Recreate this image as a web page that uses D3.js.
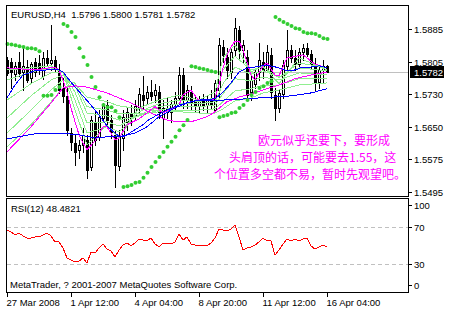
<!DOCTYPE html>
<html>
<head>
<meta charset="utf-8">
<script src="https://cdn.jsdelivr.net/npm/d3@7"></script>
<style>
  body { margin: 0; background: #fff; }
  text { font-family: "Liberation Sans", Arial, sans-serif; }
</style>
</head>
<body>
<svg id="chart" width="450" height="312"></svg>
<script>
// H4 bars, [open, high, low, close]
const candles = [
  [1.5811,1.5818,1.5775,1.5779],[1.5806,1.5815,1.5744,1.5782],[1.5777,1.5806,1.5763,1.5796],[1.5806,1.5830,1.5772,1.5779],
  [1.5782,1.5839,1.5739,1.5796],[1.5794,1.5811,1.5758,1.5763],[1.5768,1.5806,1.5758,1.5801],[1.5806,1.5815,1.5772,1.5782],
  [1.5803,1.5823,1.5777,1.5787],[1.5772,1.5830,1.5765,1.5815],[1.5815,1.5834,1.5796,1.5803],[1.5803,1.5894,1.5787,1.5811],
  [1.5811,1.5820,1.5782,1.5791],[1.5787,1.5801,1.5732,1.5739],[1.5744,1.5768,1.5710,1.5725],[1.5725,1.5744,1.5631,1.5643],
  [1.5636,1.5648,1.5596,1.5615],[1.5612,1.5631,1.5560,1.5591],[1.5596,1.5619,1.5576,1.5607],[1.5607,1.5648,1.5591,1.5631],
  [1.5619,1.5631,1.5529,1.5548],[1.5555,1.5677,1.5548,1.5667],[1.5662,1.5691,1.5607,1.5619],[1.5627,1.5691,1.5619,1.5674],
  [1.5672,1.5708,1.5662,1.5703],[1.5703,1.5715,1.5648,1.5667],[1.5667,1.5679,1.5624,1.5638],[1.5631,1.5643,1.5507,1.5560],
  [1.5557,1.5643,1.5548,1.5631],[1.5624,1.5691,1.5596,1.5674],[1.5662,1.5696,1.5643,1.5686],[1.5684,1.5703,1.5655,1.5672],
  [1.5677,1.5715,1.5667,1.5701],[1.5696,1.5744,1.5686,1.5729],[1.5727,1.5772,1.5696,1.5715],[1.5720,1.5748,1.5705,1.5734],
  [1.5734,1.5763,1.5715,1.5725],[1.5727,1.5753,1.5710,1.5739],[1.5734,1.5748,1.5672,1.5686],[1.5672,1.5715,1.5624,1.5696],
  [1.5696,1.5720,1.5672,1.5686],[1.5686,1.5715,1.5662,1.5705],[1.5705,1.5734,1.5691,1.5720],[1.5720,1.5794,1.5715,1.5775],
  [1.5775,1.5791,1.5696,1.5715],[1.5715,1.5751,1.5696,1.5739],[1.5734,1.5748,1.5691,1.5710],[1.5710,1.5727,1.5686,1.5701],
  [1.5701,1.5725,1.5686,1.5715],[1.5715,1.5729,1.5691,1.5703],[1.5703,1.5725,1.5686,1.5715],[1.5715,1.5739,1.5696,1.5705],
  [1.5691,1.5763,1.5686,1.5756],[1.5739,1.5863,1.5715,1.5846],[1.5842,1.5858,1.5806,1.5823],[1.5818,1.5839,1.5768,1.5787],
  [1.5782,1.5839,1.5768,1.5830],[1.5834,1.5911,1.5823,1.5887],[1.5882,1.5892,1.5815,1.5834],[1.5834,1.5858,1.5806,1.5846],
  [1.5818,1.5834,1.5715,1.5727],[1.5734,1.5775,1.5715,1.5763],[1.5753,1.5791,1.5744,1.5782],[1.5782,1.5851,1.5763,1.5811],
  [1.5806,1.5830,1.5768,1.5787],[1.5787,1.5846,1.5782,1.5830],[1.5823,1.5839,1.5720,1.5734],[1.5727,1.5744,1.5667,1.5696],
  [1.5696,1.5739,1.5686,1.5732],[1.5729,1.5811,1.5720,1.5799],[1.5796,1.5882,1.5787,1.5834],[1.5834,1.5846,1.5806,1.5815],
  [1.5815,1.5834,1.5787,1.5801],[1.5801,1.5839,1.5791,1.5830],[1.5830,1.5849,1.5811,1.5839],[1.5839,1.5851,1.5820,1.5825],
  [1.5825,1.5834,1.5791,1.5801],[1.5801,1.5815,1.5739,1.5758],[1.5758,1.5799,1.5744,1.5787],[1.5787,1.5811,1.5758,1.5796],
  [1.5796,1.5800,1.5781,1.5782]
];

const sarValues = [
  1.5849,1.5848,1.5846,1.5844,1.5842,1.5839,1.5839,1.5837,1.5832,
  1.5725,1.5725,1.5727,1.5739,1.5746,
  1.5897,1.5892,1.5878,1.5866,1.5839,1.5818,1.5799,1.5770,1.5746,1.5722,1.5703,1.5698,1.5698,1.5689,1.5674,
  1.5507,1.5509,1.5512,1.5517,1.5519,1.5529,1.5541,1.5555,1.5567,1.5579,1.5591,1.5603,1.5615,1.5627,1.5643,1.5655,1.5667,
  1.5796,1.5794,1.5791,1.5789,1.5787,1.5784,1.5782,
  1.5674,1.5677,1.5679,1.5684,1.5686,1.5696,1.5703,1.5715,1.5727,1.5734,1.5744,1.5748,1.5756,1.5760,
  1.5914,1.5907,1.5902,1.5897,1.5892,1.5887,1.5885,1.5878,1.5875,1.5875,1.5873,1.5868,1.5863,1.5861
];

const rsiValues = [
  66.8,64.6,61.4,63.5,60.3,58.1,58.1,59.2,59.2,61.4,63.5,60.3,53.8,53.8,47.3,36.5,34.3,32.2,33.2,36.5,
  31.1,43.0,41.9,47.3,51.6,46.2,44.1,37.6,45.1,50.5,52.7,49.5,52.7,57.0,55.9,54.9,58.1,51.6,48.4,52.7,
  52.7,51.6,53.8,62.4,55.9,59.2,51.6,50.5,49.5,49.5,49.5,52.7,58.1,67.8,66.8,65.7,67.8,72.2,59.2,45.1,
  47.3,48.4,50.5,53.8,58.1,54.9,54.9,39.7,45.1,51.6,57.0,54.9,57.0,54.9,57.0,58.1,49.5,46.2,48.4,50.5,
  48.48
];

// moving averages, read at selected bars
const greenIdx = [0,6,11,14,17,20,25,28,33,38,43,48,52,54,57,61,64,68,73,80];
const green1 = [1.5787,1.5792,1.5797,1.5782,1.5691,1.5608,1.5656,1.5624,1.5696,1.5715,1.5727,1.5715,1.5734,1.5816,1.5847,1.5782,1.5797,1.5754,1.5816,1.5787];
const green2 = [1.5763,1.5782,1.5792,1.5782,1.5715,1.5636,1.5651,1.5639,1.5687,1.5706,1.5715,1.5711,1.5720,1.5787,1.5820,1.5787,1.5794,1.5768,1.5804,1.5792];
const green3 = [1.5715,1.5754,1.5780,1.5780,1.5734,1.5660,1.5663,1.5653,1.5679,1.5699,1.5706,1.5706,1.5711,1.5754,1.5794,1.5777,1.5785,1.5770,1.5792,1.5785];
const green4 = [1.5672,1.5725,1.5763,1.5775,1.5749,1.5684,1.5677,1.5667,1.5677,1.5691,1.5699,1.5699,1.5703,1.5730,1.5766,1.5761,1.5770,1.5763,1.5780,1.5775];
const green5 = [1.5636,1.5691,1.5739,1.5763,1.5756,1.5699,1.5691,1.5682,1.5682,1.5687,1.5691,1.5691,1.5694,1.5711,1.5737,1.5742,1.5751,1.5751,1.5766,1.5766];
const green6 = [1.5603,1.5656,1.5711,1.5744,1.5754,1.5722,1.5711,1.5701,1.5694,1.5689,1.5687,1.5684,1.5684,1.5694,1.5713,1.5720,1.5732,1.5739,1.5751,1.5756];

const magFastIdx = [0,7,12,13,14,15,16,17,18,19,20,22,24,25,27,28,30,33,37,39,43,44,46,48,51,52,53,54,55,56,57,58,59,60,61,62,64,65,67,68,70,74,77,80];
const magFast = [1.5792,1.5787,1.5794,1.5787,1.5763,1.5734,1.5696,1.5663,1.5632,1.5613,1.5596,1.5617,1.5651,1.5651,1.5620,1.5624,1.5656,1.5670,1.5699,1.5684,
  1.5703,1.5727,1.5739,1.5713,1.5713,1.5720,1.5751,1.5792,1.5823,1.5842,1.5856,1.5856,1.5835,1.5806,1.5775,1.5763,1.5797,1.5804,1.5775,1.5773,
  1.5816,1.5823,1.5801,1.5792];

const magSlowIdx = [0,6,11,14,17,20,25,31,36,40,43,46,50,52,55,58,61,64,68,72,76,80];
const magSlow = [1.5591,1.5651,1.5708,1.5744,1.5749,1.5746,1.5732,1.5708,1.5684,1.5667,1.5663,1.5663,1.5675,1.5687,1.5711,1.5722,1.5730,1.5739,1.5751,1.5766,1.5775,1.5782];

const blueFastIdx = [0,2,4,7,10,13,14,15,17,19,21,23,25,27,28,29,30,32,34,35,38,40,43,46,48,52,54,56,58,60,62,65,68,70,72,74,76,78,80];
const blueFast = [1.5720,1.5751,1.5775,1.5785,1.5787,1.5787,1.5782,1.5770,1.5746,1.5725,1.5703,1.5679,1.5653,1.5636,1.5629,1.5627,1.5632,1.5644,1.5656,1.5665,
  1.5682,1.5691,1.5703,1.5711,1.5715,1.5718,1.5734,1.5756,1.5782,1.5792,1.5794,1.5799,1.5792,1.5785,1.5787,1.5794,1.5794,1.5797,1.5792];

const blueSlowIdx = [0,8,13,18,22,25,28,32,35,38,42,45,48,52,54,60,63,71,76,80];
const blueSlow = [1.5622,1.5636,1.5636,1.5632,1.5624,1.5627,1.5627,1.5636,1.5651,1.5675,1.5696,1.5708,1.5715,1.5715,1.5715,1.5718,1.5720,1.5725,1.5732,1.5742];

const priceTicks = [1.5885, 1.5805, 1.5730, 1.5650, 1.5575, 1.5495];
const rsiTicks = [100, 70, 30, 0];
const rsiLevels = [70, 30];
const timeTickIdx = [0, 16, 32, 48, 64, 80];
const timeLabels = ['27 Mar 2008', '1 Apr 12:00', '4 Apr 04:00', '8 Apr 20:00', '11 Apr 12:00', '16 Apr 04:00'];

const header = 'EURUSD,H4  1.5796 1.5800 1.5781 1.5782';
const lastPrice = 1.5782;
const rsiTitle = 'RSI(12) 48.4821';
const copyright = 'MetaTrader, ? 2001-2007 MetaQuotes Software Corp.';
const noteLines = ['欧元似乎还要下，要形成', '头肩顶的话，可能要去1.55，这', '个位置多空都不易，暂时先观望吧。'];
const notePos = [[258, 145], [229, 162], [214, 179]];

const colors = {
  green: '#90ee90',
  sar: '#32cd32',
  magenta: '#ff00ff',
  blue: '#0000ff',
  rsi: '#ff0000',
  level: '#c0c0c0'
};

const svg = d3.select('#chart');
const left = 6, right = 408;
const main = { top: 5, bottom: 196 };
const sub = { top: 198, bottom: 292 };

const x = d3.scaleLinear().domain([0, 80]).range([7, 327]);
const y = d3.scaleLinear().domain([1.5495, 1.5885]).range([192, 29]);
const yR = d3.scaleLinear().domain([30, 70]).range([264, 227]);

svg.append('rect').attr('width', 450).attr('height', 312).attr('fill', '#fff');

// current price line
svg.append('line')
  .attr('x1', left).attr('x2', right)
  .attr('y1', Math.round(y(lastPrice)) + 0.5).attr('y2', Math.round(y(lastPrice)) + 0.5)
  .attr('stroke', colors.level);

// candles
const bars = svg.append('g').attr('shape-rendering', 'crispEdges');
candles.forEach((c, i) => {
  const cx = Math.round(x(i));
  const [o, h, l, cl] = c;
  bars.append('line')
    .attr('x1', cx + 0.5).attr('x2', cx + 0.5)
    .attr('y1', Math.round(y(h))).attr('y2', Math.round(y(l)) + 1)
    .attr('stroke', '#000');
  const top = Math.round(y(Math.max(o, cl)));
  const bot = Math.round(y(Math.min(o, cl)));
  bars.append('rect')
    .attr('x', cx - 0.5).attr('y', top + 0.5)
    .attr('width', 2).attr('height', Math.max(bot - top, 1))
    .attr('fill', cl >= o ? '#fff' : '#000')
    .attr('stroke', '#000');
});

const priceLine = d3.line().x((d) => x(d[0])).y((d) => y(d[1]));
function drawMa(idx, vals, color) {
  svg.append('path')
    .attr('d', priceLine(idx.map((k, j) => [k, vals[j]])))
    .attr('fill', 'none')
    .attr('stroke', color)
    .attr('stroke-width', 1)
    .attr('shape-rendering', 'crispEdges');
}

[green6, green5, green4, green3, green2, green1].forEach((g) => drawMa(greenIdx, g, colors.green));
drawMa(magSlowIdx, magSlow, colors.magenta);
drawMa(magFastIdx, magFast, colors.magenta);
drawMa(blueSlowIdx, blueSlow, colors.blue);
drawMa(blueFastIdx, blueFast, colors.blue);

// parabolic SAR
svg.append('g')
  .selectAll('circle')
  .data(sarValues)
  .join('circle')
  .attr('cx', (d, i) => x(i) + 0.5)
  .attr('cy', (d) => y(d))
  .attr('r', 2)
  .attr('fill', colors.sar);

// annotation
noteLines.forEach((t, k) => {
  svg.append('text')
    .attr('x', notePos[k][0])
    .attr('y', notePos[k][1])
    .attr('fill', colors.magenta)
    .style('font-family', '"Noto Sans CJK SC", sans-serif')
    .style('font-size', '12px')
    .text(t);
});

// RSI panel
rsiLevels.forEach((v) => {
  svg.append('line')
    .attr('x1', left + 1).attr('x2', right)
    .attr('y1', Math.round(yR(v)) + 0.5).attr('y2', Math.round(yR(v)) + 0.5)
    .attr('stroke', colors.level)
    .attr('stroke-dasharray', '4,3');
});
svg.append('path')
  .attr('d', d3.line().x((d, i) => x(i)).y((d) => yR(d))(rsiValues))
  .attr('fill', 'none')
  .attr('stroke', colors.rsi)
  .attr('shape-rendering', 'crispEdges');

// frames
const frames = svg.append('g').attr('fill', 'none').attr('stroke', '#000').attr('shape-rendering', 'crispEdges');
frames.append('rect').attr('x', left + 0.5).attr('y', main.top + 0.5).attr('width', right - left).attr('height', main.bottom - main.top);
frames.append('rect').attr('x', left + 0.5).attr('y', sub.top + 0.5).attr('width', right - left).attr('height', sub.bottom - sub.top);

// price axis
const pa = svg.append('g');
priceTicks.forEach((p) => {
  const ty = Math.round(y(p)) + 0.5;
  pa.append('line').attr('x1', right).attr('x2', right + 4).attr('y1', ty).attr('y2', ty).attr('stroke', '#000');
  pa.append('text').attr('x', 414).attr('y', ty + 3.5).style('font-size', '9.5px').text(p.toFixed(4));
});
const ly = Math.round(y(lastPrice));
pa.append('rect').attr('x', 410).attr('y', ly - 6).attr('width', 34).attr('height', 12).attr('fill', '#000');
pa.append('text').attr('x', 414).attr('y', ly + 3.5).attr('fill', '#fff').style('font-size', '9.5px').text(lastPrice.toFixed(4));

rsiTicks.forEach((v) => {
  const ty = Math.min(Math.max(Math.round(yR(v)), 205), 285) + 0.5;
  pa.append('line').attr('x1', right).attr('x2', right + 4).attr('y1', ty).attr('y2', ty).attr('stroke', '#000');
  pa.append('text').attr('x', 414).attr('y', ty + 3.5).style('font-size', '9.5px').text(v);
});

// time axis
timeTickIdx.forEach((k, j) => {
  const tx = Math.round(x(k)) + 0.5;
  pa.append('line').attr('x1', tx).attr('x2', tx).attr('y1', sub.bottom).attr('y2', sub.bottom + 5).attr('stroke', '#000');
  pa.append('text').attr('x', tx - 1).attr('y', 306).style('font-size', '9.5px').text(timeLabels[j]);
});

// labels
svg.append('text').attr('x', 11).attr('y', 18).style('font-size', '9.5px').style('white-space', 'pre').text(header);
svg.append('text').attr('x', 11).attr('y', 212).style('font-size', '9.5px').text(rsiTitle);
svg.append('text').attr('x', 10).attr('y', 288).style('font-size', '9.5px').text(copyright);
</script>
</body>
</html>
